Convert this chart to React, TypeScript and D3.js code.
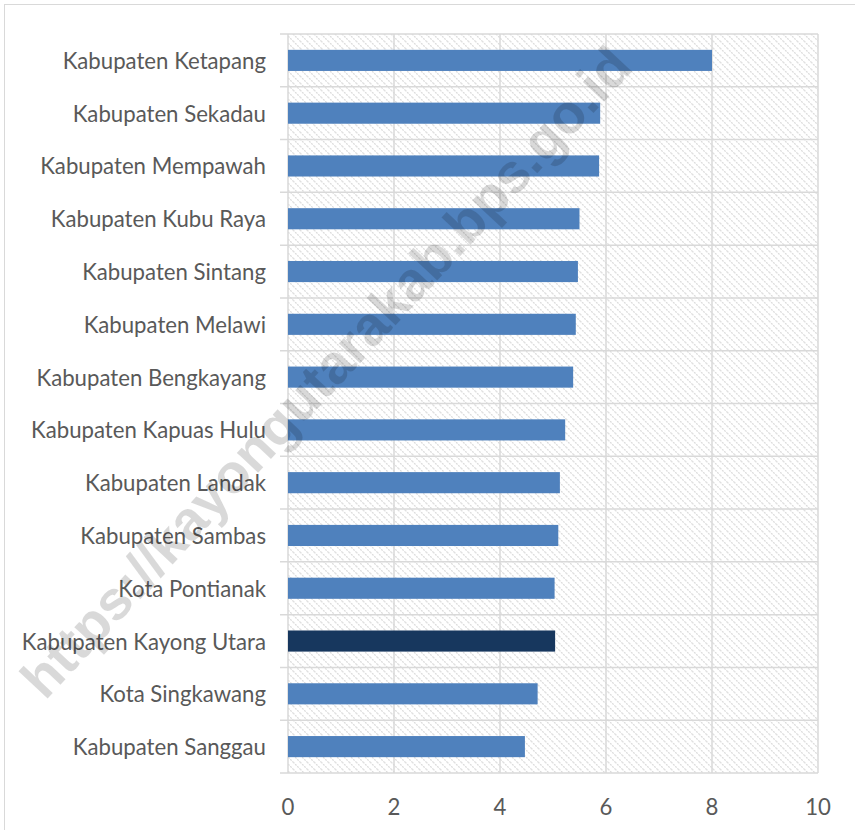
import React from "react";
import * as d3 from "d3";

const categories = [
  "Kabupaten Ketapang",
  "Kabupaten Sekadau",
  "Kabupaten Mempawah",
  "Kabupaten Kubu Raya",
  "Kabupaten Sintang",
  "Kabupaten Melawi",
  "Kabupaten Bengkayang",
  "Kabupaten Kapuas Hulu",
  "Kabupaten Landak",
  "Kabupaten Sambas",
  "Kota Pontianak",
  "Kabupaten Kayong Utara",
  "Kota Singkawang",
  "Kabupaten Sanggau",
];
const values = [8.0, 5.89, 5.87, 5.5, 5.47, 5.43, 5.38, 5.23, 5.13, 5.1, 5.03, 5.04, 4.71, 4.47];
const highlight = "Kabupaten Kayong Utara";
const xTicks = [0, 2, 4, 6, 8, 10];
const watermark = "https://kayongutarakab.bps.go.id";

const W = 855;
const H = 830;
const left = 288;
const right = 818;
const top = 34;
const bottom = 773;
const FONT = "Lato, 'Open Sans', sans-serif";

export default function App() {
  const x = d3.scaleLinear().domain([0, 10]).range([left, right]);
  const y = d3
    .scaleBand<string>()
    .domain(categories)
    .range([top, bottom])
    .paddingInner(0.6)
    .paddingOuter(0.3);
  const step = y.step();
  const boundaries = d3.range(categories.length + 1).map((i) => top + i * step);

  return (
    <svg
      width={W}
      height={H}
      style={{ position: "absolute", left: 0, top: 0, display: "block" }}
    >
      <defs>
        <pattern id="hatch" width="7" height="7" patternUnits="userSpaceOnUse">
          <path d="M-1,-1 L8,8 M-1,6 L1,8 M6,-1 L8,1" stroke="#dcdcdc" strokeWidth="1.3" strokeDasharray="2,1" />
        </pattern>
      </defs>
      <rect x={0} y={0} width={W} height={H} fill="#fff" />
      <rect x={4.5} y={4.5} width={W + 20} height={H + 20} fill="none" stroke="#d9d9d9" strokeWidth={1} />
      <rect x={left} y={top} width={right - left} height={bottom - top} fill="url(#hatch)" />
      {boundaries.map((b, i) => (
        <line key={"h" + i} x1={left - 8} x2={right} y1={b} y2={b} stroke="#d9d9d9" strokeWidth={1.5} />
      ))}
      {xTicks.map((t) => (
        <line key={"v" + t} x1={x(t)} x2={x(t)} y1={top} y2={bottom} stroke="#d9d9d9" strokeWidth={1.5} />
      ))}
      {categories.map((c, i) => (
        <rect
          key={c}
          x={x(0)}
          y={y(c)!}
          width={x(values[i]) - x(0)}
          height={y.bandwidth()}
          fill={c === highlight ? "#17375e" : "#4f81bd"}
        />
      ))}
      {categories.map((c) => (
        <text
          key={"l" + c}
          x={266}
          y={y(c)! + y.bandwidth() / 2}
          textAnchor="end"
          dominantBaseline="central"
          fontFamily={FONT}
          fontSize={22.2}
          fill="#595959"
        >
          {c}
        </text>
      ))}
      {xTicks.map((t) => (
        <text
          key={"t" + t}
          x={x(t)}
          y={806}
          textAnchor="middle"
          dominantBaseline="central"
          fontFamily={FONT}
          fontSize={22.2}
          fill="#595959"
        >
          {t}
        </text>
      ))}
      <text
        transform="translate(326,372) rotate(-47)"
        textAnchor="middle"
        dominantBaseline="central"
        fontFamily="'Liberation Sans', Arial, sans-serif"
        fontWeight="bold"
        fontSize={55}
        fill="#000"
        fillOpacity={0.15}
      >
        {watermark}
      </text>
    </svg>
  );
}
